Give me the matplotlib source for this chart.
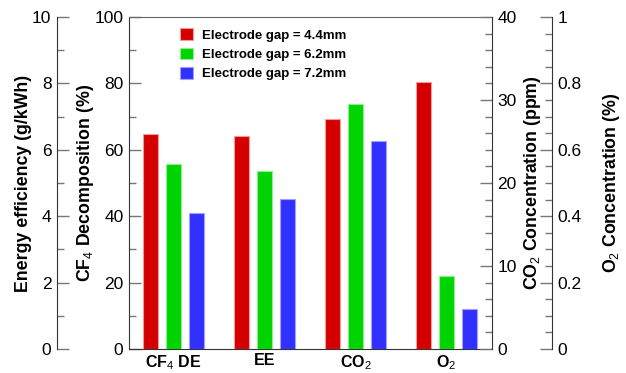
import matplotlib
matplotlib.use("Agg")
import matplotlib.pyplot as plt
import numpy as np
from matplotlib.ticker import MultipleLocator, FuncFormatter

plt.rcParams['font.family'] = ['Liberation Sans', 'DejaVu Sans']
plt.rcParams['mathtext.fontset'] = 'custom'
plt.rcParams['mathtext.rm'] = 'Liberation Sans'
plt.rcParams['mathtext.bf'] = 'Liberation Sans:bold'

categories = ["CF$_4$ DE", "EE", "CO$_2$", "O$_2$"]
series_labels = ["Electrode gap = 4.4mm", "Electrode gap = 6.2mm", "Electrode gap = 7.2mm"]
# values per gap: [CF4 DE (%), EE (g/kWh), CO2 (ppm), O2 (%)]
gap_44 = [64.8, 6.42, 27.7, 0.804]
gap_62 = [55.6, 5.37, 29.5, 0.220]
gap_72 = [41.0, 4.51, 25.0, 0.119]
series = [gap_44, gap_62, gap_72]

colors = ["#d40000", "#00d400", "#3030ff"]
edges = ["#f39a9a", "#8ff08f", "#a0a0ff"]

fig = plt.figure(figsize=(6.26, 3.73), dpi=100)
W, H = 626, 373
x0, x1, y0, y1 = 129, 492, 17, 349
ax = fig.add_axes([x0 / W, 1 - y1 / H, (x1 - x0) / W, (y1 - y0) / H])
ax_ee = ax.twinx()
ax_co2 = ax.twinx()
ax_o2 = ax.twinx()

span = x1 - x0
ax_ee.spines['left'].set_position(('axes', -(x0 - 57) / span))
ax_o2.spines['right'].set_position(('axes', 1 + (552 - x1) / span))

ax.set_ylim(0, 100)
ax_ee.set_ylim(0, 10)
ax_co2.set_ylim(0, 40)
ax_o2.set_ylim(0, 1)
ax.set_xlim(-0.49, 3.5)

axes_for_cat = [ax, ax_ee, ax_co2, ax_o2]
xpos = np.arange(len(categories))
width = 0.165
offset = 0.253
bars = []
for i, (vals, c, e) in enumerate(zip(series, colors, edges)):
    for j, a in enumerate(axes_for_cat):
        b = a.bar(xpos[j] + (i - 1) * offset, vals[j], width=width, color=c,
                  edgecolor=e, linewidth=0.8, zorder=3)
        if j == 0:
            bars.append(b)

spine_col = "#333333"
tick_col = "#777777"
for a in [ax, ax_ee, ax_co2, ax_o2]:
    for s in a.spines.values():
        s.set_visible(False)
        s.set_color(spine_col)
ax.spines['left'].set_visible(True)
ax.spines['top'].set_visible(True)
ax.spines['top'].set_color("#666666")
ax.spines['bottom'].set_visible(True)
ax_ee.spines['left'].set_visible(True)
ax_co2.spines['right'].set_visible(True)
ax_o2.spines['right'].set_visible(True)

ax_ee.yaxis.set_ticks_position('left')
ax_ee.yaxis.set_label_position('left')

ax.yaxis.set_major_locator(MultipleLocator(20))
ax.yaxis.set_minor_locator(MultipleLocator(10))
ax_ee.yaxis.set_major_locator(MultipleLocator(2))
ax_ee.yaxis.set_minor_locator(MultipleLocator(1))
ax_co2.yaxis.set_major_locator(MultipleLocator(10))
ax_co2.yaxis.set_minor_locator(MultipleLocator(2))
ax_o2.yaxis.set_major_locator(MultipleLocator(0.2))
ax_o2.yaxis.set_minor_locator(MultipleLocator(0.05))

ax_o2.yaxis.set_major_formatter(FuncFormatter(
    lambda v, p: "0" if abs(v) < 1e-9 else ("1" if abs(v - 1) < 1e-9 else f"{v:.1f}")))

for a in [ax, ax_ee, ax_co2, ax_o2]:
    a.tick_params(axis='y', which='both', direction='in', color=tick_col, labelsize=12.5, pad=4)
    a.tick_params(axis='y', which='major', length=8.4, width=1)
    a.tick_params(axis='y', which='minor', length=4.8, width=1)

ax.set_xticks(xpos)
ax.set_xticklabels(categories, fontweight='bold', fontsize=11.5)
ax.tick_params(axis='x', length=0, pad=3)

lab_kw = dict(fontweight='bold', fontsize=12.8)
ax.set_ylabel("CF$_4$ Decomposition (%)", **lab_kw)
ax_ee.set_ylabel("Energy efficiency (g/kWh)", **lab_kw)
ax_co2.set_ylabel("CO$_2$ Concentration (ppm)", **lab_kw)
ax_o2.set_ylabel("O$_2$ Concentration (%)", **lab_kw)
ax.yaxis.set_label_coords((96 - x0) / span, 0.5)
ax_ee.yaxis.set_label_coords((32 - x0) / span, 0.5)
ax_co2.yaxis.set_label_coords((522 - x0) / span, 0.5)
ax_o2.yaxis.set_label_coords((601 - x0) / span, 0.5)

leg = ax.legend(bars, series_labels, loc='upper left', bbox_to_anchor=(0.14, 0.966),
                frameon=False, prop={'weight': 'bold', 'size': 9.5},
                handlelength=1.0, handleheight=1.0, handletextpad=0.7,
                labelspacing=0.45, borderpad=0, borderaxespad=0)

fig.savefig("out.png", dpi=100)
